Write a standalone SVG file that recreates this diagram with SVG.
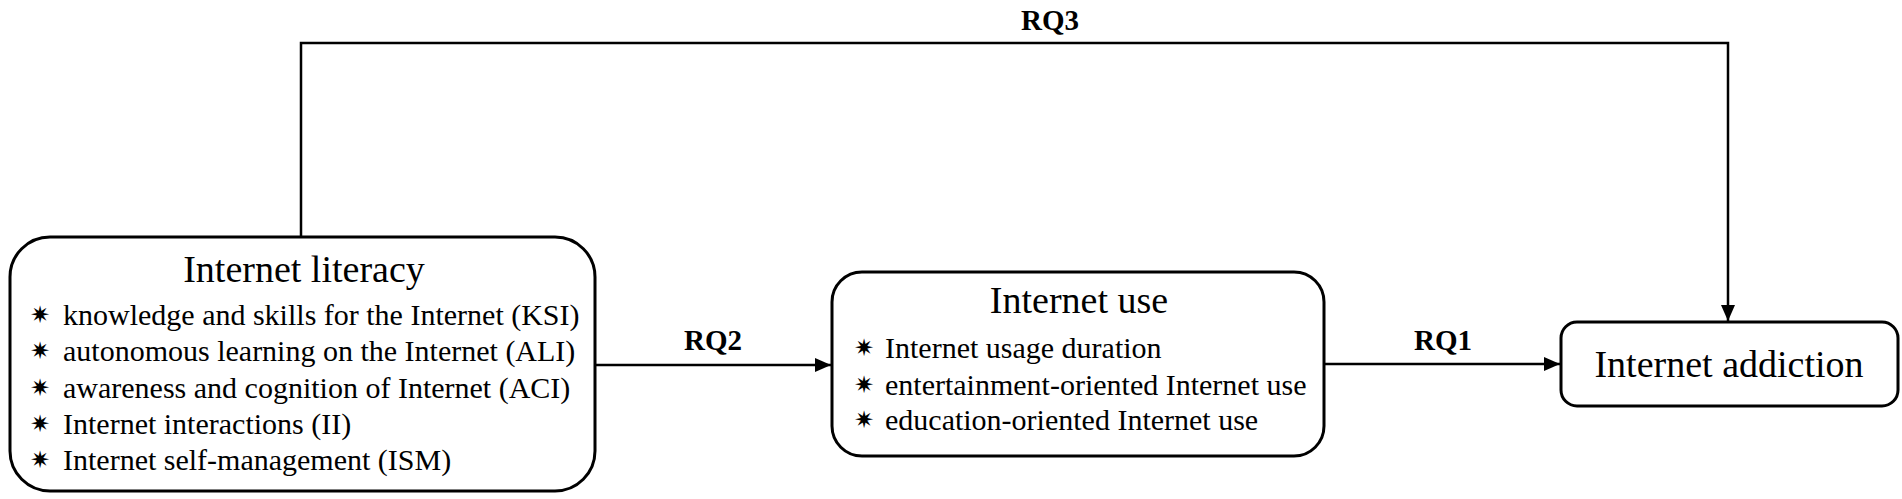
<svg xmlns="http://www.w3.org/2000/svg" width="1902" height="499" viewBox="0 0 1902 499">
<style>
.box{fill:#fff;stroke:#000;stroke-width:3}
text{font-family:'Liberation Serif','Times New Roman',Tinos,'DejaVu Serif',serif;fill:#000}
.title{font-size:38px;text-anchor:middle}
.item{font-size:30px}
.star{font-family:'DejaVu Sans',sans-serif;font-size:24px}
.lab{font-size:29px;font-weight:bold;text-anchor:middle}
.c{fill:none;stroke:#000;stroke-width:2.5}
</style>
<defs>
<marker id="ah" markerWidth="16" markerHeight="14" refX="16" refY="7" orient="auto" markerUnits="userSpaceOnUse" viewBox="0 0 16 14">
<path d="M0,0 L16,7 L0,14 z" fill="#000"/>
</marker>
</defs>
<g id="connectors">
<path class="c" d="M301,237 V43 H1728 V321" marker-end="url(#ah)"/>
<path class="c" d="M595,365 H831" marker-end="url(#ah)"/>
<path class="c" d="M1324,364 H1560" marker-end="url(#ah)"/>
<text class="lab" x="1050" y="30">RQ3</text>
<text class="lab" x="713" y="350">RQ2</text>
<text class="lab" x="1443" y="350">RQ1</text>
</g>
<g id="internet-literacy">
<rect class="box" x="10" y="237" width="585" height="254" rx="40"/>
<text class="title" x="304" y="282">Internet literacy</text>
<text class="star" x="30" y="323">✷</text><text class="item" x="63" y="325">knowledge and skills for the Internet (KSI)</text>
<text class="star" x="30" y="359">✷</text><text class="item" x="63" y="361">autonomous learning on the Internet (ALI)</text>
<text class="star" x="30" y="396">✷</text><text class="item" x="63" y="398">awareness and cognition of Internet (ACI)</text>
<text class="star" x="30" y="432">✷</text><text class="item" x="63" y="434">Internet interactions (II)</text>
<text class="star" x="30" y="468">✷</text><text class="item" x="63" y="470">Internet self-management (ISM)</text>
</g>
<g id="internet-use">
<rect class="box" x="832" y="272" width="492" height="184" rx="30"/>
<text class="title" x="1079" y="313">Internet use</text>
<text class="star" x="854" y="356">✷</text><text class="item" x="885" y="358">Internet usage duration</text>
<text class="star" x="854" y="393">✷</text><text class="item" x="885" y="395">entertainment-oriented Internet use</text>
<text class="star" x="854" y="428">✷</text><text class="item" x="885" y="430">education-oriented Internet use</text>
</g>
<g id="internet-addiction">
<rect class="box" x="1561" y="322" width="337" height="84" rx="16"/>
<text class="title" x="1729" y="377">Internet addiction</text>
</g>
</svg>
